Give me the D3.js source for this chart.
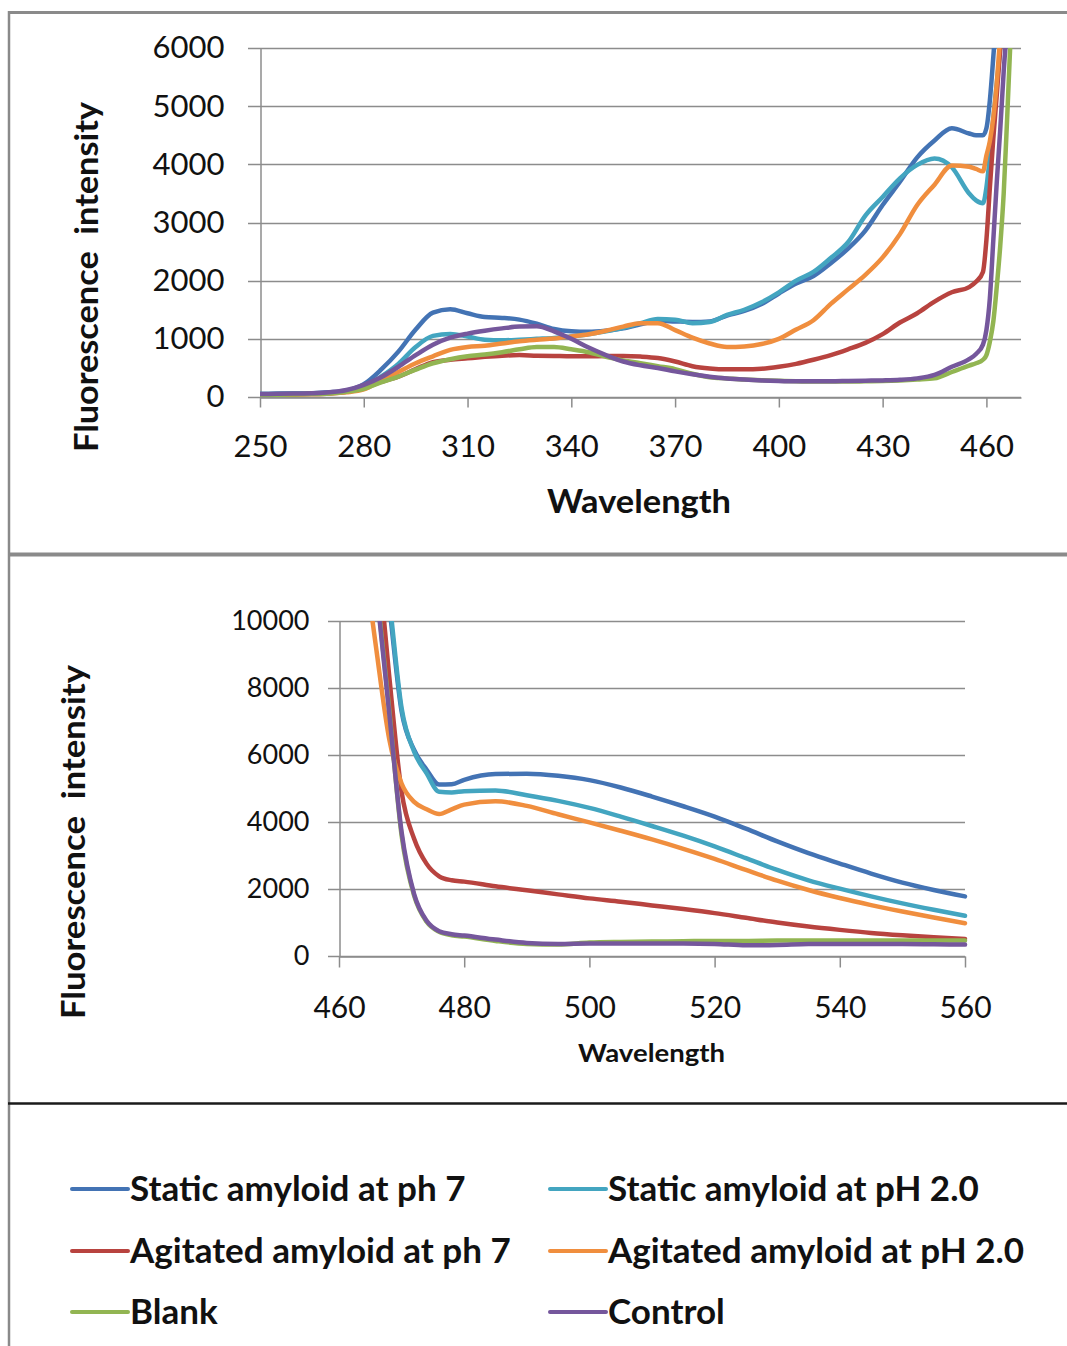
<!DOCTYPE html>
<html>
<head>
<meta charset="utf-8">
<script src="https://cdn.jsdelivr.net/npm/d3@7"></script>
<style>
  html, body { margin: 0; padding: 0; background: #fff; }
  svg { display: block; }
  text { font-family: Lato, "Open Sans", "Liberation Sans", sans-serif; fill: #111; }
  .bold { font-weight: 700; }
  .pre { white-space: pre; }
</style>
</head>
<body>
<svg id="chart" width="1067" height="1346"></svg>
<script>
// ---- Series labels ----
const seriesNames = [
  "Static amyloid at ph 7",
  "Static amyloid at pH 2.0",
  "Agitated amyloid at ph 7",
  "Agitated amyloid at pH 2.0",
  "Blank",
  "Control"
];

// ---- Upper panel: 250–470 nm ----
const topWavelengths = [250,255,260,265,270,275,280,285,290,295,300,305,310,315,320,325,330,335,340,345,350,355,360,365,370,375,380,385,390,395,400,405,410,415,420,425,430,435,440,445,450,455,457,459,460,461,462,463,464,465,466,467,468,470];
const topStaticPh7 = [50,55,60,65,80,110,220,470,780,1160,1450,1510,1440,1375,1360,1330,1260,1170,1130,1120,1140,1180,1250,1310,1300,1290,1300,1400,1480,1600,1780,1950,2080,2300,2550,2860,3300,3700,4120,4410,4620,4530,4500,4500,4620,5100,5850,6700,7800,9000,10500,12000,13500,16000];
const topStaticPh2 = [50,55,60,65,75,100,170,350,570,860,1050,1085,1040,985,975,985,1000,1015,1040,1080,1130,1190,1270,1340,1330,1270,1290,1410,1500,1630,1800,2000,2150,2390,2660,3120,3440,3760,3990,4100,3950,3500,3380,3330,3600,4150,4800,5400,6000,7000,8500,10000,12000,15000];
const topAgitatedPh7 = [40,40,45,50,60,90,160,260,350,480,600,640,665,690,710,720,710,705,700,700,705,705,695,670,610,530,490,475,475,485,520,570,640,720,820,930,1080,1280,1440,1640,1800,1890,1980,2150,2700,3600,4450,5200,6000,6900,8000,9500,11000,14000];
const topAgitatedPh2 = [40,40,45,50,60,80,130,280,430,580,700,810,860,880,920,960,985,1005,1040,1080,1140,1210,1270,1270,1150,1020,920,860,870,910,1000,1160,1320,1600,1850,2100,2400,2800,3300,3650,3980,3960,3920,3880,4150,4400,4800,5400,6200,7200,8500,10000,11500,14000];
const topBlank = [40,40,45,50,60,90,140,250,350,470,580,650,700,730,770,820,860,860,820,770,690,630,580,530,480,400,340,320,300,290,280,270,265,265,265,270,275,285,300,320,430,540,580,640,720,950,1300,1900,2600,3500,4800,6200,7800,11000];
const topControl = [50,55,60,65,80,120,210,340,520,720,900,1020,1090,1140,1180,1210,1215,1130,1000,850,720,610,545,500,440,390,350,320,300,285,275,270,270,270,275,280,285,295,320,380,520,650,740,900,1150,1700,2700,3700,4600,5600,6500,8000,9500,12000];
const topXTicks = [250,280,310,340,370,400,430,460];
const topYTicks = [0,1000,2000,3000,4000,5000,6000];

// ---- Lower panel: 460–560 nm ----
const bottomWavelengths = [460,462,464,466,468,470,472,474,476,478,480,485,490,495,500,505,510,515,520,525,530,535,540,545,550,555,560];
const bottomStaticPh7 = [40000,28000,19000,13500,10500,7300,6150,5560,5120,5130,5260,5430,5440,5380,5250,5030,4760,4470,4160,3800,3420,3070,2760,2460,2190,1970,1780];
const bottomStaticPh2 = [40000,28000,19000,13500,10700,7400,6100,5450,4900,4880,4920,4940,4800,4630,4420,4160,3880,3590,3270,2920,2570,2260,2010,1780,1570,1380,1200];
const bottomAgitatedPh7 = [30000,22000,16000,12400,8400,4900,3500,2750,2380,2260,2220,2080,1960,1840,1720,1620,1510,1400,1280,1140,1000,880,780,690,620,560,510];
const bottomAgitatedPh2 = [26000,15500,12000,9100,6500,5150,4600,4380,4240,4380,4520,4620,4480,4230,3990,3740,3480,3200,2900,2570,2250,1970,1730,1520,1330,1150,980];
const bottomBlank = [30000,20000,14500,11000,7400,3600,1800,1020,720,620,580,450,360,340,400,420,430,440,450,450,460,460,460,460,460,460,460];
const bottomControl = [30000,20000,14500,10900,7300,3700,1850,1050,740,650,610,490,390,360,370,370,370,370,360,320,330,355,360,360,360,350,340];
const bottomXTicks = [460,480,500,520,540,560];
const bottomYTicks = [0,2000,4000,6000,8000,10000];

// Line colours, one per series (same order as seriesNames)
const seriesColors = ["#4373B4", "#43A5C0", "#B8433F", "#F08E3E", "#92B552", "#75579C"];

const topSeries = [topStaticPh7, topStaticPh2, topAgitatedPh7, topAgitatedPh2, topBlank, topControl];
const bottomSeries = [bottomStaticPh7, bottomStaticPh2, bottomAgitatedPh7, bottomAgitatedPh2, bottomBlank, bottomControl];

const svg = d3.select("#chart");
const gridColor = "#8c8c8c";

// ---- Panel frame ----
const frame = svg.append("g").attr("fill", "none");
frame.append("line").attr("x1", 9).attr("x2", 9).attr("y1", 11).attr("y2", 1346)
  .attr("stroke", "#8a8a8a").attr("stroke-width", 2.5);
frame.append("line").attr("x1", 8).attr("x2", 1067).attr("y1", 12.5).attr("y2", 12.5)
  .attr("stroke", "#8a8a8a").attr("stroke-width", 3);
frame.append("line").attr("x1", 8).attr("x2", 1067).attr("y1", 554.5).attr("y2", 554.5)
  .attr("stroke", "#8a8a8a").attr("stroke-width", 4);
frame.append("line").attr("x1", 8).attr("x2", 1067).attr("y1", 1103.5).attr("y2", 1103.5)
  .attr("stroke", "#1a1a1a").attr("stroke-width", 2.5);

// ---- Generic panel drawing ----
function drawPanel(cfg) {
  const g = svg.append("g");
  const x = d3.scaleLinear().domain(cfg.xDomain).range(cfg.xRange);
  const y = d3.scaleLinear().domain(cfg.yDomain).range(cfg.yRange);
  const [x0, x1] = cfg.xRange;
  const [yBottom, yTop] = cfg.yRange;

  // horizontal gridlines (extending out as the y tick marks)
  g.append("g").selectAll("line").data(cfg.yTicks).join("line")
    .attr("x1", x0 - cfg.yTickLen).attr("x2", x1)
    .attr("y1", d => Math.round(y(d)) + 0.5).attr("y2", d => Math.round(y(d)) + 0.5)
    .attr("stroke", gridColor).attr("stroke-width", 1.5);

  // y axis (labels only; the tick marks are the gridline stubs)
  const yAxis = g.append("g").attr("transform", `translate(${x0 + 0.5},0)`)
    .call(d3.axisLeft(y).tickValues(cfg.yTicks).tickSize(0).tickSizeOuter(0)
      .tickPadding(cfg.yTickLen + cfg.yLabelPad).tickFormat(d3.format("d")));
  yAxis.select(".domain").attr("stroke", gridColor).attr("stroke-width", 1.5);
  yAxis.selectAll("text").attr("font-size", cfg.yLabelSize).attr("fill", "#111")
    .style("font-family", "Lato, 'Open Sans', sans-serif");

  // x axis
  const xAxis = g.append("g").attr("transform", `translate(0,${Math.round(yBottom) + 0.5})`)
    .call(d3.axisBottom(x).tickValues(cfg.xTicks).tickSize(cfg.xTickLen).tickSizeOuter(0)
      .tickFormat(d3.format("d")));
  xAxis.select(".domain").attr("stroke", gridColor).attr("stroke-width", 1.5);
  xAxis.selectAll(".tick line").attr("stroke", gridColor).attr("stroke-width", 1.5);
  xAxis.selectAll("text").attr("font-size", cfg.xLabelSize).attr("fill", "#111")
    .attr("y", cfg.xLabelBaseline - yBottom).attr("dy", 0)
    .style("font-family", "Lato, 'Open Sans', sans-serif");

  // clipped series lines
  const clipId = cfg.id + "-clip";
  svg.append("defs").append("clipPath").attr("id", clipId)
    .append("rect").attr("x", x0).attr("y", yTop).attr("width", x1 - x0 + 3).attr("height", yBottom - yTop + 4);

  const line = d3.line()
    .x((d, i) => x(cfg.wavelengths[i]))
    .y(d => y(d))
    .curve(d3.curveMonotoneX);

  g.append("g").attr("clip-path", `url(#${clipId})`)
    .selectAll("path").data(cfg.series).join("path")
    .attr("d", d => line(d))
    .attr("fill", "none")
    .attr("stroke", (d, i) => seriesColors[i])
    .attr("stroke-width", 4.5)
    .attr("stroke-linejoin", "round")
    .attr("stroke-linecap", "round");

  // axis titles
  g.append("text").attr("class", "bold")
    .attr("x", cfg.xTitle.x).attr("y", cfg.xTitle.y)
    .attr("text-anchor", "middle").attr("font-size", cfg.xTitle.size)
    .attr("textLength", cfg.xTitle.len).attr("lengthAdjust", "spacingAndGlyphs")
    .text("Wavelength");
  g.append("text").attr("class", "bold pre")
    .attr("transform", `translate(${cfg.yTitle.x},${cfg.yTitle.y}) rotate(-90)`)
    .attr("text-anchor", "middle").attr("font-size", cfg.yTitle.size)
    .attr("textLength", cfg.yTitle.len).attr("lengthAdjust", "spacingAndGlyphs")
    .text("Fluorescence  intensity");
}

drawPanel({
  id: "upper",
  wavelengths: topWavelengths, series: topSeries,
  xDomain: [250, 470], xRange: [260, 1021],
  yDomain: [0, 6000], yRange: [397, 48],
  xTicks: topXTicks, yTicks: topYTicks,
  yTickLen: 12, yLabelPad: 24, yLabelSize: 31,
  xTickLen: 10, xLabelSize: 31, xLabelBaseline: 456,
  xTitle: { x: 639, y: 513, size: 32, len: 184 },
  yTitle: { x: 98, y: 277, size: 33, len: 350 }
});

drawPanel({
  id: "lower",
  wavelengths: bottomWavelengths, series: bottomSeries,
  xDomain: [460, 560], xRange: [339, 965],
  yDomain: [0, 10000], yRange: [956, 621],
  xTicks: bottomXTicks, yTicks: bottomYTicks,
  yTickLen: 11, yLabelPad: 19, yLabelSize: 27,
  xTickLen: 11, xLabelSize: 30, xLabelBaseline: 1017,
  xTitle: { x: 651.5, y: 1062, size: 25, len: 147 },
  yTitle: { x: 85, y: 842, size: 33, len: 354 }
});

// ---- Legend (two columns, three rows) ----
const legendCols = [72, 550];
const legendRows = [1189, 1251, 1312];
const legend = svg.append("g").selectAll("g").data(seriesNames).join("g")
  .attr("transform", (d, i) => `translate(${legendCols[i % 2]},${legendRows[Math.floor(i / 2)]})`);
legend.append("line")
  .attr("x1", 0).attr("x2", 56).attr("y1", 0).attr("y2", 0)
  .attr("stroke", (d, i) => seriesColors[i]).attr("stroke-width", 4).attr("stroke-linecap", "round");
legend.append("text").attr("class", "bold")
  .attr("x", 58).attr("y", 12)
  .attr("font-size", 35)
  .text(d => d);
</script>
</body>
</html>
